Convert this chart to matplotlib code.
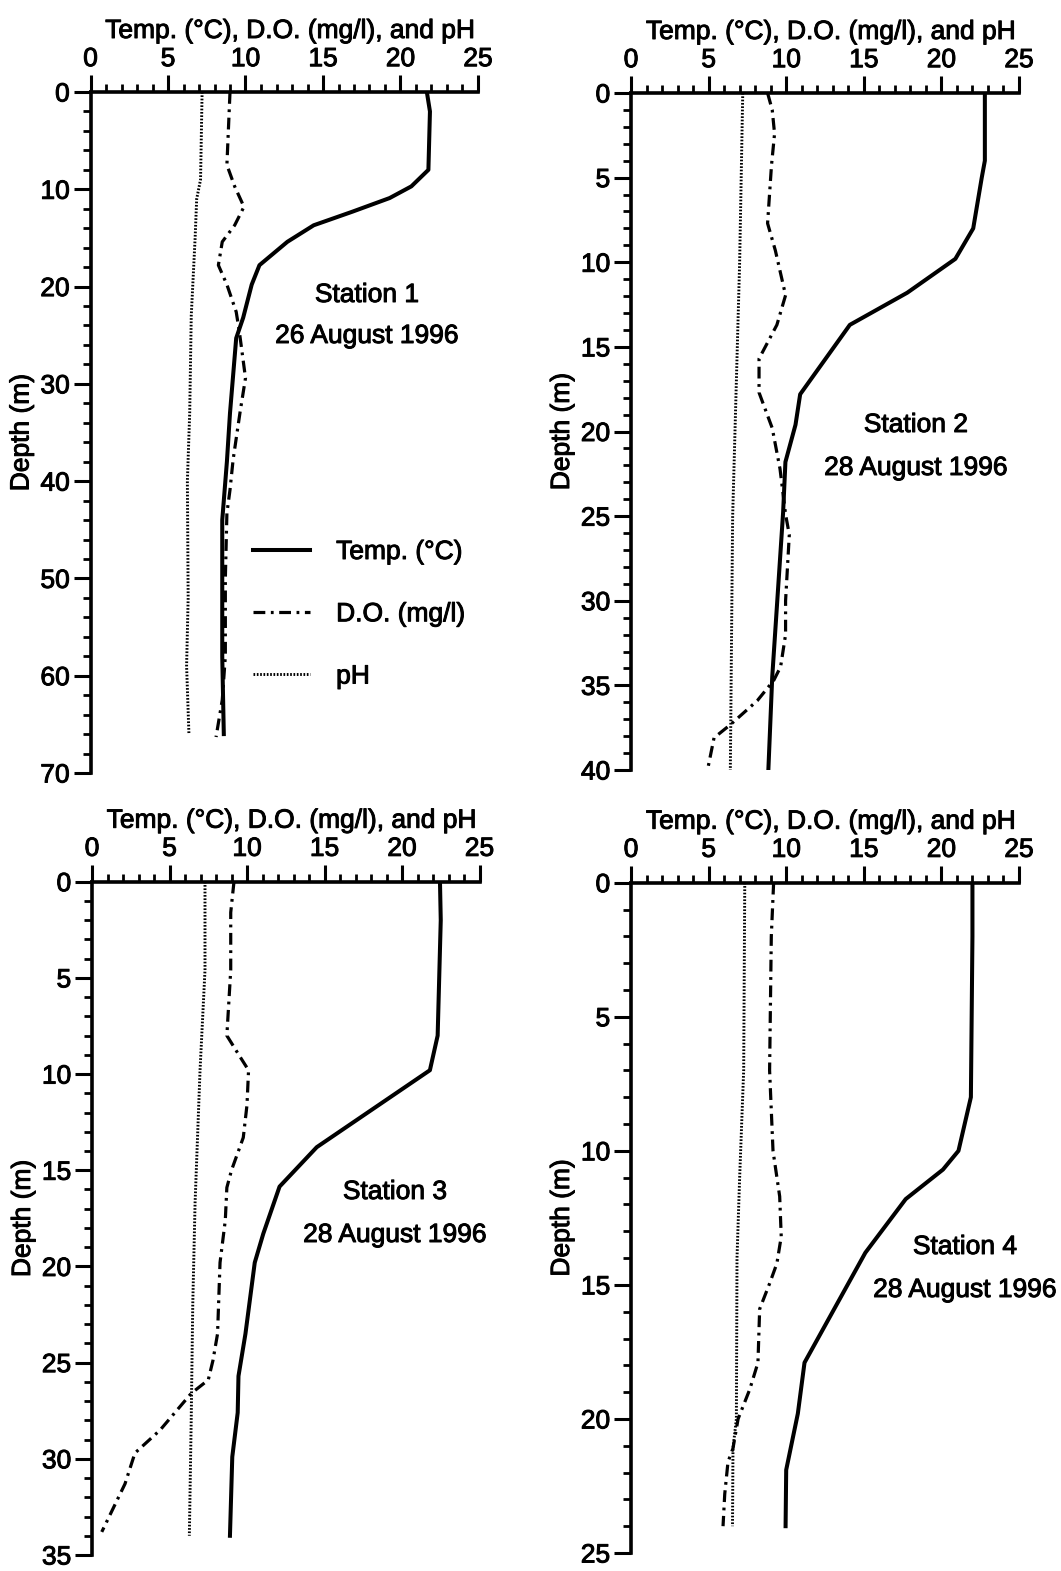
import matplotlib
matplotlib.use("Agg")
import matplotlib.pyplot as plt
import matplotlib.patheffects as pe
from matplotlib.text import Text
from matplotlib.ticker import MultipleLocator

plt.rcParams['font.family'] = ['Liberation Sans', 'DejaVu Sans']
plt.rcParams['lines.scale_dashes'] = False

# ---------------- data ----------------
x_label = "Temp. (°C), D.O. (mg/l), and pH"
y_label = "Depth (m)"
legend_labels = ["Temp. (°C)", "D.O. (mg/l)", "pH"]

station_names = ["Station 1", "Station 2", "Station 3", "Station 4"]
station_dates = ["26 August 1996", "28 August 1996", "28 August 1996", "28 August 1996"]

# Station 1
depth1_temp = [0, 2, 8, 9.7, 10.9, 12.3, 13.7, 15.4, 17.8, 19.8, 23.2, 25.3, 33, 38, 44, 58, 66]
temp1 = [21.7, 21.9, 21.8, 20.7, 19.3, 16.9, 14.4, 12.7, 10.9, 10.4, 9.85, 9.4, 9.0, 8.8, 8.5, 8.5, 8.6]
depth1_do = [0, 7.5, 9.7, 11.8, 13.7, 15.4, 17.8, 19.8, 22.6, 24.6, 29.4, 32.9, 37.8, 40.9, 43.3, 50, 58, 62.5, 66.3]
do1 = [9.0, 8.8, 9.3, 9.9, 9.3, 8.5, 8.25, 8.8, 9.4, 9.6, 10.0, 9.65, 9.2, 9.0, 8.8, 8.7, 8.7, 8.5, 8.1]
depth1_ph = [0, 9, 11, 15, 23, 33, 40, 52, 59, 66]
ph1 = [7.2, 7.1, 6.85, 6.75, 6.5, 6.4, 6.25, 6.3, 6.2, 6.35]

# Station 2
depth2_temp = [0, 4, 5, 8, 9.8, 11.8, 13.7, 17.8, 19.6, 21.8, 24.8, 34.5, 40]
temp2 = [22.8, 22.8, 22.6, 22.05, 20.9, 17.8, 14.1, 10.9, 10.6, 9.95, 9.8, 9.1, 8.85]
depth2_do = [0, 1, 2.4, 4.3, 7.7, 9.3, 11.95, 13.7, 15.7, 17.7, 19.8, 22.2, 24.9, 26.1, 30, 32,
             33.9, 34.7, 35.9, 37.3, 38.1, 40]
do2 = [8.8, 9.1, 9.25, 9.05, 8.8, 9.3, 9.96, 9.4, 8.25, 8.25, 9.1, 9.6, 9.96, 10.2, 9.96, 9.96,
       9.64, 9.2, 8.14, 6.43, 5.35, 4.93]
depth2_ph = [0, 10, 20, 25, 35, 40]
ph2 = [7.2, 7.0, 6.7, 6.55, 6.45, 6.4]

# Station 3
depth3_temp = [0, 2, 8, 9.8, 13.8, 15.85, 18.3, 19.8, 23.5, 25.7, 27.6, 29.9, 34]
temp3 = [22.45, 22.5, 22.3, 21.8, 14.5, 12.1, 11.05, 10.5, 9.9, 9.45, 9.4, 9.05, 8.9]
depth3_do = [0, 1.6, 4.6, 8.0, 9.1, 9.8, 11.6, 13.3, 15.0, 15.9, 17.6, 19.8, 23.5, 24.9, 25.9,
             26.6, 28.5, 29.7, 31.3, 33.8]
do3 = [9.16, 8.95, 8.95, 8.7, 9.55, 10.1, 10.0, 9.76, 9.0, 8.7, 8.6, 8.26, 8.1, 7.8, 7.5,
       6.4, 4.4, 2.77, 2.13, 0.63]
depth3_ph = [0, 4.6, 9.8, 16.7, 22, 28, 34]
ph3 = [7.29, 7.29, 6.97, 6.65, 6.5, 6.4, 6.28]

# Station 4
depth4_temp = [0, 2, 8, 10, 10.7, 11.8, 13.8, 17.9, 19.8, 21.9, 24]
temp4 = [22.0, 22.0, 21.9, 21.1, 20.1, 17.7, 15.1, 11.18, 10.75, 10.0, 9.96]
depth4_do = [0, 2, 7, 10, 11.7, 13.2, 14.2, 14.95, 15.9, 17.9, 18.9, 20, 21.1, 21.6, 22.8, 24]
do4 = [9.19, 9.04, 8.93, 9.15, 9.58, 9.68, 9.4, 8.93, 8.29, 8.18, 7.65, 6.9, 6.57, 6.25, 6.04, 5.93]
depth4_ph = [0, 7, 11, 14, 20, 21.1, 24]
ph4 = [7.33, 7.26, 7.0, 6.83, 6.79, 6.57, 6.54]

depth_max = [70, 40, 35, 25]
depth_major = [10, 5, 5, 5]
depth_minor = [2, 1, 1, 1]

# ---------------- layout ----------------
W, H = 1061, 1571
fig = plt.figure(figsize=(W / 100, H / 100), dpi=100)

# axes boxes in pixels: (left, top, right, bottom)
boxes = [(90.5, 92, 478, 773), (631, 93, 1019, 770),
         (92, 881.7, 479.5, 1555), (631, 882.7, 1019, 1553)]
# station text centres in pixels: (x, y_name, y_date)
text_pos = [(367, 295, 336), (916, 425, 468), (395, 1192, 1235), (965, 1247, 1290)]

series = [
    (depth1_temp, temp1, depth1_do, do1, depth1_ph, ph1),
    (depth2_temp, temp2, depth2_do, do2, depth2_ph, ph2),
    (depth3_temp, temp3, depth3_do, do3, depth3_ph, ph3),
    (depth4_temp, temp4, depth4_do, do4, depth4_ph, ph4),
]

FS = 19
DO_STYLE = (0, (8.5, 4, 2, 4))
PH_STYLE = (0, (1.2, 1.2))

for i, (box, s) in enumerate(zip(boxes, series)):
    l, t, r, b = box
    ax = fig.add_axes([l / W, 1 - b / H, (r - l) / W, (b - t) / H])
    dT, T, dD, D, dP, P = s
    h1, = ax.plot(T, dT, color='black', lw=2.9, solid_joinstyle='round')
    h2, = ax.plot(D, dD, color='black', lw=2.3, linestyle=DO_STYLE)
    h3, = ax.plot(P, dP, color='black', lw=2.1, linestyle=PH_STYLE)

    ax.set_xlim(0, 25)
    ax.set_ylim(depth_max[i], 0)
    ax.xaxis.tick_top()
    ax.xaxis.set_label_position('top')
    ax.xaxis.set_major_locator(MultipleLocator(5))
    ax.xaxis.set_minor_locator(MultipleLocator(1))
    ax.yaxis.set_major_locator(MultipleLocator(depth_major[i]))
    ax.yaxis.set_minor_locator(MultipleLocator(depth_minor[i]))
    for side in ('right', 'bottom'):
        ax.spines[side].set_visible(False)
    for side in ('left', 'top'):
        ax.spines[side].set_linewidth(2.6)
    ax.tick_params(which='major', direction='out', length=12, width=2.2,
                   labelsize=FS, pad=3)
    ax.tick_params(which='minor', direction='out', length=6, width=2.0)
    ax.patch.set_visible(False)

    hpx = b - t
    wpx = r - l
    ax.set_xlabel(x_label, fontsize=FS)
    ax.xaxis.set_label_coords(0.5 + 6 / wpx, 1 + 54 / hpx)
    ax.set_ylabel(y_label, fontsize=FS)
    ax.yaxis.set_label_coords(-57 / wpx, 0.5)

    tx, ty1, ty2 = text_pos[i]
    fig.text(tx / W, 1 - ty1 / H, station_names[i], ha='center', va='center', fontsize=FS)
    fig.text(tx / W, 1 - ty2 / H, station_dates[i], ha='center', va='center', fontsize=FS)

    if i == 0:
        ax.legend([h1, h2, h3], legend_labels, loc='upper left',
                  bbox_to_anchor=(253 / W, 1 - 540 / H), bbox_transform=fig.transFigure,
                  frameon=False, fontsize=FS, handlelength=2.15, handletextpad=1.0,
                  labelspacing=1.45, borderpad=0, borderaxespad=0)

# slightly heavier text, like the scanned original
for txt in fig.findobj(Text):
    txt.set_path_effects([pe.withStroke(linewidth=0.7, foreground='black')])

fig.savefig("out.png", dpi=100)
